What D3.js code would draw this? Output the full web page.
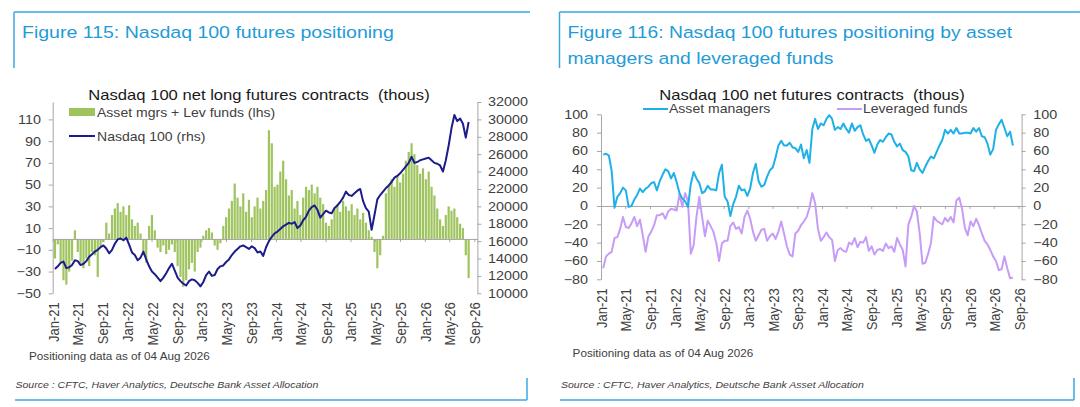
<!DOCTYPE html>
<html>
<head>
<meta charset="utf-8">
<script src="https://cdn.jsdelivr.net/npm/d3@7"></script>
<style>
  html, body { margin: 0; padding: 0; background: #fff; }
  svg { display: block; font-family: 'Liberation Sans', Arial, sans-serif; }
</style>
</head>
<body>
<svg id="chart" width="1080" height="407"></svg>
<script>
// fortnightly CFTC readings, first one 12 Jan 2021, last one 04 Aug 2026
var firstDate = "2021-01-12";
var stepDays = 14;

// Figure 115: asset mgrs + lev funds net long (thous, lhs)
var netPositions = [
  -18, -5, -22, -38, -42, -30, -20, 8, -12, -22,
  -27, -18, -25, -12, -15, -35, -8, -3, 15, 5,
  22, 28, 33, 25, 30, 22, 31, 18, 12, 15,
  5, -15, -22, 12, 22, 8, -8, -12, -6, -14,
  -10, -5, -12, -25, -35, -44, -38, -28, -22, -30,
  -12, -8, 3, 8, 10, 6, -6, -10, -4, 12,
  20, 28, 35, 51, 38, 30, 42, 25, 36, 20,
  30, 38, 28, 35, 45, 100, 88, 48, 50, 62,
  72, 55, 40, 45, 28, 35, 22, 38, 48, 45,
  50, 42, 48, 38, 32, 15, 12, 18, 28, 32,
  25, 35, 30, 26, 32, 22, 28, 18, 24, 15,
  8, 2, -12, -27, -15, 3, 42, 50, 55, 48,
  58, 52, 60, 72, 80, 88, 78, 68, 60, 65,
  55, 62, 48, 40, 28, 18, 12, 22, 30, 26,
  28, 20, 14, 10, -15, -36
];

// Nasdaq 100 index level (rhs)
var nasdaq100 = [
  12800, 13100, 13500, 13650, 12900, 13000, 13250, 13800, 13700, 13250,
  13400, 13700, 14200, 14500, 14800, 15000, 15300, 15500, 15150, 14600,
  15000, 15700, 16200, 16300, 16100, 16400, 15600, 14700, 14400, 13800,
  14100, 14800, 13900, 13100, 12500, 12200, 11800, 11400, 11800, 12300,
  12900, 13400, 12600, 11800, 11400, 11100, 10900, 11400, 11600, 11500,
  11200, 10800, 11300, 12100, 12500, 12000, 12100, 12800, 13100, 13200,
  13600, 13900, 14400, 14800, 15100, 15400, 15500, 15300, 15100, 15400,
  15200, 14700, 14800, 14300, 15300, 16000, 16500, 16900, 17100, 17400,
  17700, 17900, 18100, 18000, 18200, 17500, 17800, 18400, 18800, 19500,
  19900, 20100, 19600, 18700, 19100, 19500, 19300, 19200, 19800, 20100,
  20500, 21000, 21700, 21300, 21200, 21500, 21800, 22000, 20600, 19800,
  19400, 17300, 19000, 20800, 21300, 21700, 22100, 22400, 22800, 23300,
  23500, 23800, 24200, 24600, 25000, 25700, 25000, 25100, 25300, 25400,
  25500, 25600, 25300, 25000, 24900, 24700, 24000, 25300, 27000, 29000,
  30500, 29800, 30100, 29500, 27900, 29700
];

// Figure 116: net futures contracts by trader type (thous)
var assetManagers = [
  56, 57, 55, 38, -2, 10, 14, 20, 17, -1,
  0, 7, 12, 19, 15, 19, 21, 25, 26, 17,
  27, 34, 40, 38, 30, 36, 26, 14, 8, 5,
  -1, 24, 37, 30, 25, 14, 16, 22, 18, 18,
  17, 36, 45, 10, 5, -11, 2, 10, 22, 17,
  18, 11, 19, 36, 46, 27, 21, 23, 32, 39,
  42, 53, 66, 71, 66, 66, 69, 64, 63, 59,
  67, 52, 61, 47, 84, 95, 84, 90, 88, 95,
  99, 95, 83, 86, 84, 90, 84, 80, 90, 82,
  86, 88, 78, 71, 73, 66, 58, 67, 72, 70,
  75, 79, 78, 70, 65, 68, 61, 59, 54, 39,
  38, 47, 40, 36, 43, 49, 54, 52, 59, 66,
  72, 83, 79, 83, 79, 85, 79, 79, 80, 80,
  79, 85, 81, 85, 76, 75, 68, 56, 62, 83,
  89, 94, 85, 76, 81, 66
];

var leveragedFunds = [
  -68, -55, -52, -50, -35, -34, -25, -12, -23, -24,
  -19, -12, -22, -15, -32, -50, -33, -28, -21, -10,
  -10, -8, -14, -6, -3, -4, -5, 13, -1, 14,
  5, -52, -43, -12, 10, -12, -33, -16, -22, -28,
  -40, -60, -41, -38, -38, -22, -18, -25, -23, -30,
  -12, -5, -14, -28, -38, -32, -26, -25, -38, -33,
  -30, -36, -28, -17, -30, -44, -53, -55, -30, -27,
  -21, -17, -12, -2, 14, 3, -25, -38, -34, -29,
  -34, -37, -60, -48, -46, -49, -50, -40, -42, -35,
  -45, -39, -40, -34, -49, -44, -53, -48, -47, -49,
  -41, -46, -44, -50, -35, -42, -48, -66, -20, -12,
  0, -6, -30, -63, -62, -52, -40, -12, -16, -18,
  -20, -13, -17, -12, -18, 6, 9, -3, -24, -32,
  -17, -22, -14, -21, -30, -38, -42, -48, -55, -60,
  -70, -69, -55, -68, -79, -78
];

var leftTicksLhs = [-50, -30, -10, 10, 30, 50, 70, 90, 110];
var leftTicksRhs = [10000, 12000, 14000, 16000, 18000, 20000, 22000, 24000, 26000, 28000, 30000, 32000];
var rightTicks = [-80, -60, -40, -20, 0, 20, 40, 60, 80, 100];

var svg = d3.select("#chart");
var SX = 1.17;   // text in the source is drawn a bit wide
var FRAME = "#39a9e0", TITLE = "#1f9bd7", AXIS = "#a6a6a6", INK = "#404040";
var GREEN = "#9fc45f", NAVY = "#1c1c8a", CYAN = "#1fb0e8", LILAC = "#c79cf7";

var start = d3.timeParse("%Y-%m-%d")(firstDate);
var dates = netPositions.map(function(_, i) { return d3.timeDay.offset(start, i * stepDays); });

function label(x, y, s, size, anchor) {
  return svg.append("text")
    .attr("transform", "translate(" + x + "," + y + ") scale(" + SX + ",1)")
    .attr("text-anchor", anchor || "start")
    .style("font-size", size + "px")
    .style("white-space", "pre")
    .attr("fill", INK)
    .text(s);
}

function seg(x1, y1, x2, y2, col, w) {
  svg.append("line").attr("x1", x1).attr("y1", y1).attr("x2", x2).attr("y2", y2)
    .attr("stroke", col).attr("stroke-width", w);
}

// frames round the two figures
seg(14, 12, 530, 12, FRAME, 1.5);
seg(14, 12, 14, 68, FRAME, 1.5);
seg(15, 400, 527, 400, FRAME, 1.5);
seg(527, 378, 527, 400, FRAME, 1.5);
seg(559.5, 12, 1080, 12, FRAME, 1.5);
seg(559.5, 12, 559.5, 68, FRAME, 1.5);
seg(560, 400, 1074, 400, FRAME, 1.5);
seg(1074, 378, 1074, 400, FRAME, 1.5);

label(22, 38, "Figure 115: Nasdaq 100 futures positioning", 16.7).attr("fill", TITLE);
label(567.5, 38, "Figure 116: Nasdaq 100 futures positioning by asset", 16.5).attr("fill", TITLE);
label(567.5, 63.5, "managers and leveraged funds", 16.5).attr("fill", TITLE);

function styleAxis(g) {
  g.selectAll("path.domain").attr("stroke", AXIS);
  g.selectAll(".tick line").attr("stroke", AXIS);
  g.selectAll("text").attr("fill", INK).style("font-size", "12.3px")
    .style("font-family", "'Liberation Sans', Arial, sans-serif")
    .attr("transform", "scale(" + SX + ",1)");
}

function dateAxes(x, y0, yBottom) {
  var zero = svg.append("g").attr("transform", "translate(0," + y0 + ")")
    .call(d3.axisBottom(x).ticks(d3.timeMonth.every(4)).tickSize(3).tickSizeOuter(0).tickFormat(""));
  styleAxis(zero);
  var lab = svg.append("g").attr("transform", "translate(0," + yBottom + ")")
    .call(d3.axisBottom(x).ticks(d3.timeMonth.every(4)).tickSize(0).tickFormat(d3.timeFormat("%b-%y")));
  lab.select("path.domain").remove();
  lab.selectAll("text")
    .attr("x", 0).attr("y", 0).attr("dy", "0.36em")
    .attr("text-anchor", "end")
    .attr("fill", INK)
    .style("font-size", "13px")
    .style("font-family", "'Liberation Sans', Arial, sans-serif")
    .attr("transform", "translate(0,9) rotate(-90) scale(1," + SX + ")");
}

// ---------- Figure 115 ----------
var xL = d3.scaleTime().domain([new Date(2021, 0, 1), new Date(2026, 8, 16)]).range([52.7, 477.4]);
var yL = d3.scaleLinear().domain([-50, 126]).range([293.3, 102]);
var yN = d3.scaleLinear().domain([10000, 32000]).range([293.3, 102]);

svg.append("g").selectAll("rect")
  .data(netPositions)
  .enter()
  .append("rect")
  .attr("x", function(d, i) { return xL(dates[i]) - 1.1; })
  .attr("width", 2.2)
  .attr("y", function(d) { return Math.min(yL(d), yL(0)); })
  .attr("height", function(d) { return Math.abs(yL(d) - yL(0)); })
  .attr("fill", GREEN);

dateAxes(xL, yL(0), 293.3);

var axL = svg.append("g").attr("transform", "translate(52.7,0)")
  .call(d3.axisLeft(yL).tickValues(leftTicksLhs).tickSize(4).tickSizeOuter(0).tickPadding(6));
styleAxis(axL);
var axN = svg.append("g").attr("transform", "translate(477.4,0)")
  .call(d3.axisRight(yN).tickValues(leftTicksRhs).tickSize(4).tickSizeOuter(0).tickPadding(5)
    .tickFormat(d3.format("d")));
styleAxis(axN);

svg.append("path")
  .datum(nasdaq100)
  .attr("fill", "none")
  .attr("stroke", NAVY)
  .attr("stroke-width", 2)
  .attr("stroke-linejoin", "round")
  .attr("d", d3.line().x(function(d, i) { return xL(dates[i]); }).y(function(d) { return yN(d); }));

label(259, 100, "Nasdaq 100 net long futures contracts  (thous)", 14.2, "middle").attr("fill", "#1a1a1a");
svg.append("rect").attr("x", 69).attr("y", 108).attr("width", 26).attr("height", 8).attr("fill", GREEN);
label(97, 116.5, "Asset mgrs + Lev funds (lhs)", 12);
seg(69, 136, 95, 136, NAVY, 2);
label(97, 140.5, "Nasdaq 100 (rhs)", 12);

label(29, 360, "Positioning data as of 04 Aug 2026", 10);
label(15.5, 388, "Source : CFTC, Haver Analytics, Deutsche Bank Asset Allocation", 9).style("font-style", "italic");

// ---------- Figure 116 ----------
var xR = d3.scaleTime().domain([new Date(2021, 0, 1), new Date(2026, 8, 16)]).range([601, 1021.6]);
var yA = d3.scaleLinear().domain([-80, 100]).range([279.3, 114.3]);

dateAxes(xR, yA(0), 279.3);

var axA = svg.append("g").attr("transform", "translate(601,0)")
  .call(d3.axisLeft(yA).tickValues(rightTicks).tickSize(4).tickSizeOuter(0).tickPadding(7));
styleAxis(axA);
var axB = svg.append("g").attr("transform", "translate(1021.6,0)")
  .call(d3.axisRight(yA).tickValues(rightTicks).tickSize(4).tickSizeOuter(0).tickPadding(6));
styleAxis(axB);

var lineR = d3.line().x(function(d, i) { return xR(dates[i]); }).y(function(d) { return yA(d); });

svg.append("path").datum(leveragedFunds)
  .attr("fill", "none").attr("stroke", LILAC).attr("stroke-width", 2)
  .attr("stroke-linejoin", "round").attr("d", lineR);
svg.append("path").datum(assetManagers)
  .attr("fill", "none").attr("stroke", CYAN).attr("stroke-width", 2)
  .attr("stroke-linejoin", "round").attr("d", lineR);

label(812, 100, "Nasdaq 100 net futures contracts  (thous)", 14.2, "middle").attr("fill", "#1a1a1a");
seg(643, 109, 668, 109, CYAN, 2);
label(669, 113.2, "Asset managers", 12);
seg(837, 109, 862, 109, LILAC, 2);
label(863, 113.2, "Leveraged funds", 12);

label(572.6, 357, "Positioning data as of 04 Aug 2026", 10);
label(561, 388, "Source : CFTC, Haver Analytics, Deutsche Bank Asset Allocation", 9).style("font-style", "italic");
</script>
</body>
</html>
